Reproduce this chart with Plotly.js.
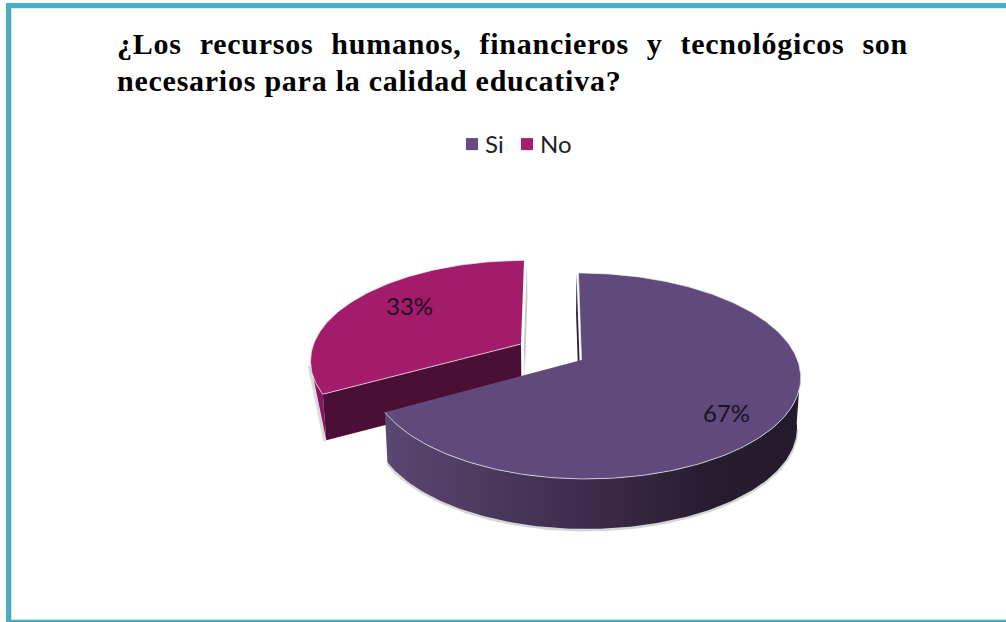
<!DOCTYPE html>
<html><head><meta charset="utf-8">
<script src="https://cdn.plot.ly/plotly-3.0.1.min.js"></script>
<style>html,body{margin:0;padding:0;background:#fff;overflow:hidden}</style>
</head><body><div id="chart" style="width:1006px;height:622px"></div>
<script>
const categories = ['Si', 'No'];
const values = [67, 33];
const labels = values.map(v => v + '%');
const topColors = ['#5f4a7b', '#a31b6b'];
const legendColors = ['#654a85', '#a81c72'];
const titleLines = ['¿Los recursos humanos, financieros y tecnológicos son', 'necesarios para la calidad educativa?'];

const total = values.reduce((a, b) => a + b, 0);
const endSi = 360 * values[0] / total;
const rad = d => d * Math.PI / 180;
const PERSP = 0.155, RX = 216, RY = 100.5, DEPTH = 50, VX = 552, NARROW = 0.985;

function projector(cx, cy, scale, shear, leftScale) {
  return deg => {
    const s = Math.sin(rad(deg)), c = Math.cos(rad(deg)), w = 1 + PERSP * c;
    const dy = -scale * RY * c / w;
    const sx = s < 0 ? leftScale : 1;
    return [cx + scale * sx * RX * s / w + shear * dy, cy + dy];
  };
}
const pSi = projector(581.5, 360, 1, 0.035, 0.97);
const pNo = projector(521, 344, 0.96, -0.036, 1);

function arc(p, a, b) {
  const pts = [], n = Math.ceil(Math.abs(b - a));
  for (let i = 0; i <= n; i++) pts.push(p(a + (b - a) * i / n));
  return pts;
}
function poly(pts, opt) {
  return Object.assign({
    x: pts.map(q => q[0]), y: pts.map(q => q[1]),
    type: 'scatter', mode: 'lines', fill: 'toself', showlegend: false, hoverinfo: 'skip',
    line: {width: 0, color: 'rgba(0,0,0,0)'}
  }, opt);
}
const down = (pts, d) => pts.map(q => [VX + (q[0] - VX) * NARROW, q[1] + d]);
const shift = (pts, dx, dy) => pts.map(q => [q[0] + dx, q[1] + dy]);
function wall(edge, d) { return edge.concat(down(edge, d).reverse()); }
const edgeLine = {width: 1, color: 'rgba(232,232,236,0.75)'};

const noApex = [521, 344], siApex = [581.5, 360];
const noArc = arc(pNo, endSi, 360);
const siArc = arc(pSi, 0, endSi);
const siFront = arc(pSi, 97, endSi);
const noSide = arc(pNo, endSi, 258);
const noDepth = DEPTH - 4;
const noBottomTip = down([pNo(endSi)], noDepth)[0];

const traces = [
  // soft shadows under the walls
  poly(shift([noSide[noSide.length - 1], noBottomTip], -1.5, 1), {fill: 'none', line: {width: 3, color: 'rgba(0,0,0,0.14)'}}),
  poly(shift(down(arc(pSi, 100, endSi), DEPTH), 0, 1), {fill: 'none', line: {width: 3, color: 'rgba(0,0,0,0.16)'}}),
  // No: back cut wall, outer wall, front cut wall, top
  poly(shift(wall([noApex, pNo(360)], 38), 3, 0), {fillcolor: '#c8c8c8'}),
  poly(noSide.concat([noBottomTip]), {fillcolor: '#87185d'}),
  poly(wall([pNo(endSi), noApex], noDepth), {fillcolor: '#4b0e36'}),
  poly([noApex].concat(noArc), {fillcolor: topColors[1], line: edgeLine}),
  // Si: back cut wall, outer wall, top
  poly(shift(wall([siApex, pSi(0)], 40), -2, 0), {fillcolor: '#2b2236'}),
  poly(wall(siFront, DEPTH), {fillcolor: '#3a2a48', fillgradient: {type: 'horizontal', colorscale: [[0, '#5a4772'], [0.5, '#3b2b49'], [0.8, '#251c2f'], [1, '#231a2c']]}}),
  poly([siApex].concat(siArc), {fillcolor: topColors[0], line: edgeLine}),
  // legend entries
  ...categories.map((c, i) => ({
    x: [null], y: [null], type: 'scatter', mode: 'markers', name: c, hoverinfo: 'skip',
    marker: {symbol: 'square', size: 12, color: legendColors[i]}
  }))
];

const teal = '#4bacc6';
const rect = (x0, y0, x1, y1, c) => ({type: 'rect', xref: 'x', yref: 'y', x0, y0, x1, y1, fillcolor: c, line: {width: 0}, layer: 'below'});

const layout = {
  width: 1006, height: 622,
  margin: {l: 0, r: 0, t: 0, b: 0},
  paper_bgcolor: '#fff', plot_bgcolor: '#fff',
  xaxis: {range: [0, 1006], visible: false, fixedrange: true},
  yaxis: {range: [622, 0], visible: false, fixedrange: true},
  title: {
    text: titleLines.join('<br>'), x: 117 / 1006, xanchor: 'left', xref: 'paper',
    y: 1 - 54 / 622, yref: 'paper', yanchor: 'top',
    font: {family: '"Liberation Serif", serif', size: 30, color: '#000', weight: 700}
  },
  legend: {
    orientation: 'h', x: 452 / 1006, y: 1 - 122 / 622, xanchor: 'left', yanchor: 'top',
    font: {family: 'Lato, sans-serif', size: 24, color: '#222'},
    itemclick: false, itemdoubleclick: false, bgcolor: 'rgba(0,0,0,0)'
  },
  shapes: [
    rect(6, 3, 1006, 8, teal), rect(6, 3, 11, 622, teal), rect(6, 620, 1006, 622, teal),
    rect(11, 8, 12, 620, '#c5e4ec'), rect(11, 8, 1006, 9, '#d5ecf2'), rect(11, 619, 1006, 620, '#c5e4ec')
  ],
  annotations: labels.map((t, i) => ({
    text: t, xref: 'x', yref: 'y', x: [726, 409][i], y: [412, 305][i],
    showarrow: false, xanchor: 'center', yanchor: 'middle',
    font: {family: 'Lato, sans-serif', size: 24, color: '#1d0f22'}
  }))
};

Plotly.newPlot('chart', traces, layout, {displayModeBar: false}).then(() => {
  // justify the first title line and match the reference's tracking and leading
  const lines = document.querySelectorAll('.gtitle tspan.line');
  if (lines.length === 2) {
    lines.forEach(l => { l.style.letterSpacing = '0.75px'; });
    const gaps = titleLines[0].split(' ').length - 1;
    const w = lines[0].getComputedTextLength();
    lines[0].style.wordSpacing = ((791 - w) / gaps) + 'px';
    lines[1].setAttribute('dy', '37px');
    lines[1].removeAttribute('y');
  }
  // tighten the legend to the reference's spacing
  const items = document.querySelectorAll('.legend .traces');
  items.forEach(it => {
    const tx = it.querySelector('.legendtext');
    if (tx) tx.setAttribute('x', parseFloat(tx.getAttribute('x')) - 7);
  });
  if (items.length === 2) {
    const m = /translate\(([-\d.]+)[ ,]+([-\d.]+)\)/.exec(items[1].getAttribute('transform'));
    const dx = 521 - items[1].querySelector('.legendpoints path').getBoundingClientRect().left;
    if (m) items[1].setAttribute('transform', `translate(${parseFloat(m[1]) + dx},${m[2]})`);
  }
});
</script></body></html>
